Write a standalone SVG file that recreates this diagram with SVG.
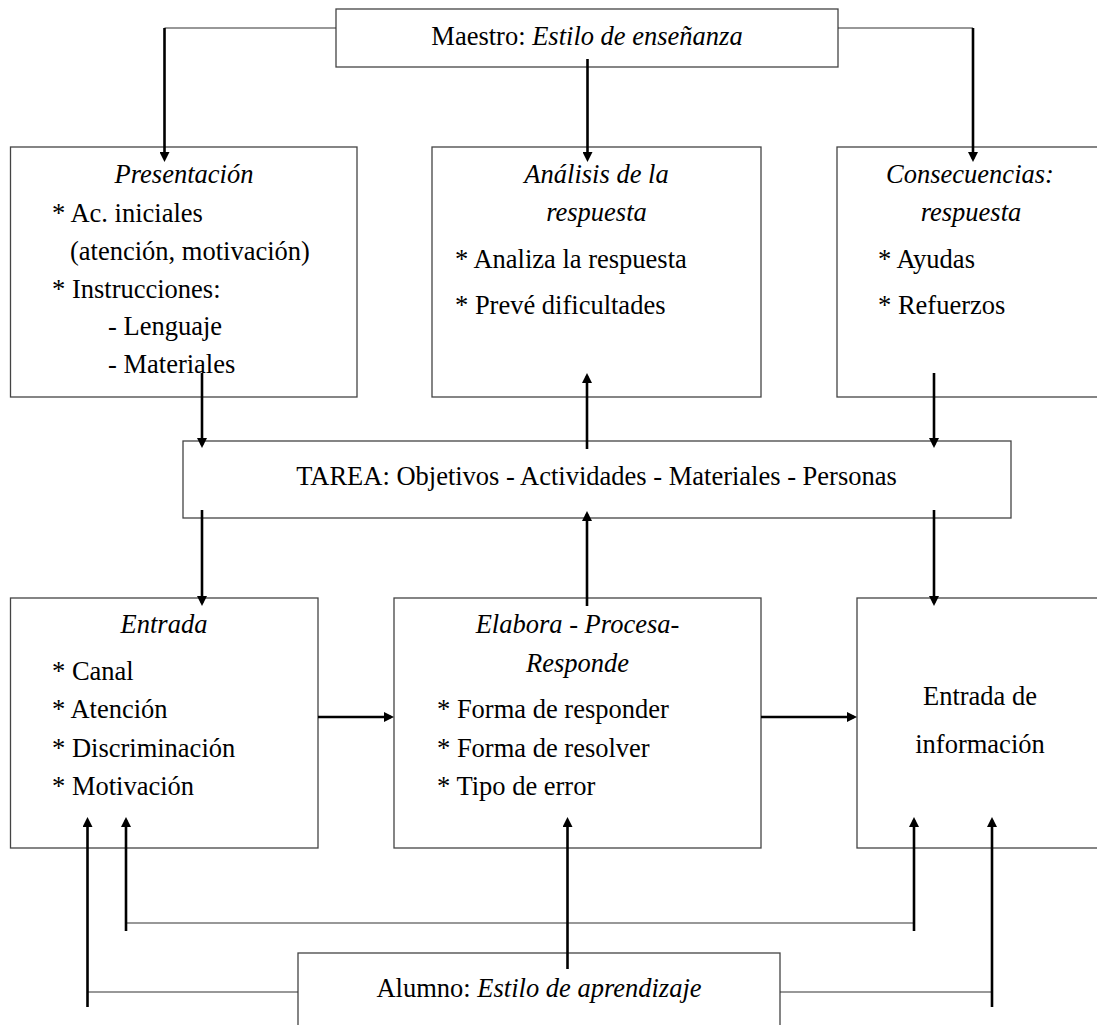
<svg xmlns="http://www.w3.org/2000/svg" width="1097" height="1025" viewBox="0 0 1097 1025">
<defs>
<style>
text{font-family:"Liberation Serif","Times New Roman",serif;font-size:26.5px;fill:#000}
.i{font-style:italic}
.c{text-anchor:middle}
.box{fill:#fff;stroke:#444;stroke-width:1.3}
.thin{fill:none;stroke:#333;stroke-width:1.1}
.thick{fill:none;stroke:#000;stroke-width:2.6;marker-end:url(#ah)}
.bar{fill:none;stroke:#000;stroke-width:2.6}
</style>
<marker id="ah" markerUnits="userSpaceOnUse" markerWidth="10" markerHeight="10" refX="7" refY="5" orient="auto">
<path d="M0,0 L10,5 L0,10 Z" fill="#000"/>
</marker>
</defs>
<rect width="1097" height="1025" fill="#fff"/>

<g id="maestro">
<rect class="box" x="336" y="9" width="502" height="58"/>
<text class="c" x="587" y="45">Maestro: <tspan class="i">Estilo de enseñanza</tspan></text>
</g>

<g id="presentacion">
<rect class="box" x="10.5" y="147" width="346.5" height="250"/>
<text class="c i" x="184" y="183">Presentación</text>
<text x="52" y="222">* Ac. iniciales</text>
<text x="70" y="260">(atención, motivación)</text>
<text x="52" y="298">* Instrucciones:</text>
<text x="108" y="335">- Lenguaje</text>
<text x="108" y="373">- Materiales</text>
</g>

<g id="analisis">
<rect class="box" x="432" y="147" width="329" height="250"/>
<text class="c i" x="596.5" y="183">Análisis de la</text>
<text class="c i" x="596.5" y="221">respuesta</text>
<text x="455" y="268">* Analiza la respuesta</text>
<text x="455" y="314">* Prevé dificultades</text>
</g>

<g id="consecuencias">
<rect class="box" x="837" y="147" width="275" height="250"/>
<text class="c i" x="970" y="183">Consecuencias:</text>
<text class="c i" x="971" y="221">respuesta</text>
<text x="878" y="268">* Ayudas</text>
<text x="878" y="314">* Refuerzos</text>
</g>

<g id="tarea">
<rect class="box" x="183" y="441" width="828" height="77"/>
<text class="c" x="596.5" y="485">TAREA: Objetivos - Actividades - Materiales - Personas</text>
</g>

<g id="entrada">
<rect class="box" x="10.5" y="598" width="307.5" height="250"/>
<text class="c i" x="164" y="633">Entrada</text>
<text x="52" y="680">* Canal</text>
<text x="52" y="718">* Atención</text>
<text x="52" y="757">* Discriminación</text>
<text x="52" y="795">* Motivación</text>
</g>

<g id="elabora">
<rect class="box" x="394" y="598" width="367" height="250"/>
<text class="c i" x="577.5" y="633">Elabora - Procesa-</text>
<text class="c i" x="577.5" y="672">Responde</text>
<text x="437" y="718">* Forma de responder</text>
<text x="437" y="757">* Forma de resolver</text>
<text x="437" y="795">* Tipo de error</text>
</g>

<g id="entrada-informacion">
<rect class="box" x="857" y="598" width="255" height="250"/>
<text class="c" x="980" y="705">Entrada de</text>
<text class="c" x="980" y="753">información</text>
</g>

<g id="alumno">
<rect class="box" x="298" y="953" width="482" height="90"/>
<text class="c" x="539" y="997">Alumno: <tspan class="i">Estilo de aprendizaje</tspan></text>
</g>

<g id="connectors">
<line class="thin" x1="336" y1="28" x2="164.5" y2="28"/>
<line class="thick" x1="164.5" y1="28" x2="164.5" y2="159"/>
<line class="thick" x1="587.5" y1="59" x2="587.5" y2="159"/>
<line class="thin" x1="838" y1="28" x2="973" y2="28"/>
<line class="thick" x1="973" y1="28" x2="973" y2="159"/>

<line class="thick" x1="202" y1="373" x2="202" y2="445"/>
<line class="thick" x1="587" y1="449" x2="587" y2="376"/>
<line class="thick" x1="934" y1="373" x2="934" y2="445"/>

<line class="thick" x1="202" y1="510" x2="202" y2="603"/>
<line class="thick" x1="587" y1="606" x2="587" y2="514"/>
<line class="thick" x1="934" y1="510" x2="934" y2="603"/>

<line class="thick" x1="318" y1="717" x2="391" y2="717"/>
<line class="thick" x1="761" y1="717" x2="854" y2="717"/>

<line class="thin" x1="298" y1="992" x2="87.5" y2="992"/>
<line class="thick" x1="87.5" y1="1007" x2="87.5" y2="820"/>
<line class="thin" x1="126" y1="923" x2="914" y2="923"/>
<line class="thick" x1="126" y1="931" x2="126" y2="820"/>
<line class="thick" x1="914" y1="931" x2="914" y2="820"/>
<line class="thick" x1="567.5" y1="969" x2="567.5" y2="820"/>
<line class="thin" x1="780" y1="992" x2="992" y2="992"/>
<line class="thick" x1="992" y1="1007" x2="992" y2="820"/>
</g>
</svg>
